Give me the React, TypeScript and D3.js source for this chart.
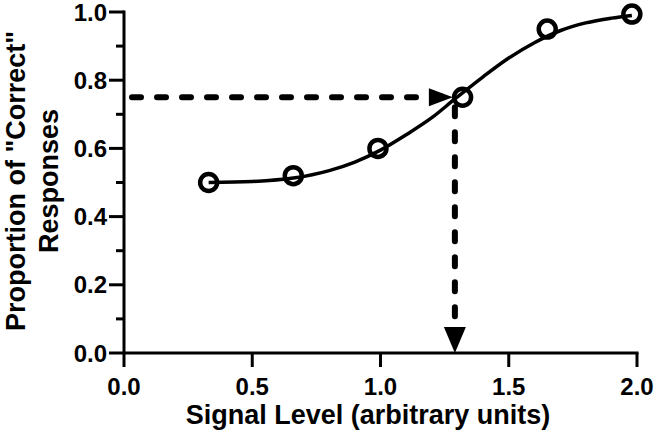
import React from "react";
import * as d3 from "d3";

// measured proportions of "correct" responses
const signalLevels = [0.33, 0.66, 0.99, 1.32, 1.65, 1.98];
const proportions = [0.5, 0.52, 0.6, 0.75, 0.95, 0.994];

// fitted psychometric curve
const fitX = [0.33, 0.5, 0.66, 0.8, 0.9, 1.0, 1.1, 1.2, 1.29, 1.4, 1.5, 1.6, 1.7, 1.8, 1.9, 1.98];
const fitY = [0.5, 0.503, 0.513, 0.535, 0.56, 0.595, 0.64, 0.69, 0.745, 0.81, 0.865, 0.91, 0.945, 0.968, 0.982, 0.99];

// threshold marker
const thresholdLevel = 1.29;
const thresholdProportion = 0.75;

const xTicks = [0, 0.5, 1.0, 1.5, 2.0];
const yMajorTicks = [0, 0.2, 0.4, 0.6, 0.8, 1.0];
const yMinorTicks = [0.1, 0.3, 0.5, 0.7, 0.9];

const W = 657;
const H = 443;
const font = "'Liberation Sans', Arial, Helvetica, sans-serif";

export default function App() {
  const x = d3.scaleLinear().domain([0, 2]).range([124, 637]);
  const y = d3.scaleLinear().domain([0, 1]).range([353, 12]);

  const fitLine = d3
    .line<number>()
    .x((d) => x(d))
    .y((_, i) => y(fitY[i]))
    .curve(d3.curveMonotoneX);

  const tx = x(thresholdLevel);
  const ty = y(thresholdProportion);
  const x0 = x(0);
  const y0 = y(0);

  return (
    <svg
      width={W}
      height={H}
      style={{ position: "absolute", left: 0, top: 0, background: "#fff" }}
    >
      {/* fitted curve */}
      <path d={fitLine(fitX) || ""} fill="none" stroke="#000" strokeWidth={3.5} />

      {/* dashed threshold guides */}
      <line
        x1={x0 + 8}
        x2={tx - 26}
        y1={ty}
        y2={ty}
        stroke="#000"
        strokeWidth={6}
        strokeDasharray="9,16"
        strokeLinecap="round"
      />
      <path
        d={`M${tx - 26},${ty - 9} L${tx - 2},${ty} L${tx - 26},${ty + 9} Z`}
        fill="#000"
      />
      <line
        x1={tx}
        x2={tx}
        y1={ty + 10}
        y2={y0 - 28}
        stroke="#000"
        strokeWidth={6}
        strokeDasharray="9,16"
        strokeLinecap="round"
      />
      <path
        d={`M${tx - 11},${y0 - 26} L${tx + 11},${y0 - 26} L${tx},${y0} Z`}
        fill="#000"
      />

      {/* data points */}
      {signalLevels.map((s, i) => (
        <circle
          key={i}
          cx={x(s)}
          cy={y(proportions[i])}
          r={8.5}
          fill="none"
          stroke="#000"
          strokeWidth={4.5}
        />
      ))}

      {/* y axis */}
      <line x1={x0} x2={x0} y1={y(1) - 1.5} y2={y0} stroke="#000" strokeWidth={3} />
      {yMajorTicks.map((t) => (
        <g key={"ym" + t}>
          <line x1={x0 - 15} x2={x0} y1={y(t)} y2={y(t)} stroke="#000" strokeWidth={3} />
          <text
            x={107}
            y={y(t)}
            dy="0.36em"
            textAnchor="end"
            fontFamily={font}
            fontWeight="bold"
            fontSize={24}
          >
            {t.toFixed(1)}
          </text>
        </g>
      ))}
      {yMinorTicks.map((t) => (
        <line key={"yn" + t} x1={x0 - 8} x2={x0} y1={y(t)} y2={y(t)} stroke="#000" strokeWidth={3} />
      ))}

      {/* x axis */}
      <line x1={x0} x2={x(2) + 1.5} y1={y0} y2={y0} stroke="#000" strokeWidth={3} />
      {xTicks.map((t) => (
        <g key={"x" + t}>
          <line x1={x(t)} x2={x(t)} y1={y0} y2={y0 + 14} stroke="#000" strokeWidth={3} />
          <text
            x={x(t)}
            y={395}
            textAnchor="middle"
            fontFamily={font}
            fontWeight="bold"
            fontSize={24}
          >
            {t.toFixed(1)}
          </text>
        </g>
      ))}

      {/* axis titles */}
      <text
        x={368}
        y={424}
        textAnchor="middle"
        fontFamily={font}
        fontWeight="bold"
        fontSize={27}
      >
        Signal Level (arbitrary units)
      </text>
      <g transform="translate(25,181) rotate(-90)" fontFamily={font} fontWeight="bold" fontSize={27}>
        <text x={0} y={0} textAnchor="middle">
          Proportion of "Correct"
        </text>
        <text x={0} y={33} textAnchor="middle">
          Responses
        </text>
      </g>
    </svg>
  );
}
